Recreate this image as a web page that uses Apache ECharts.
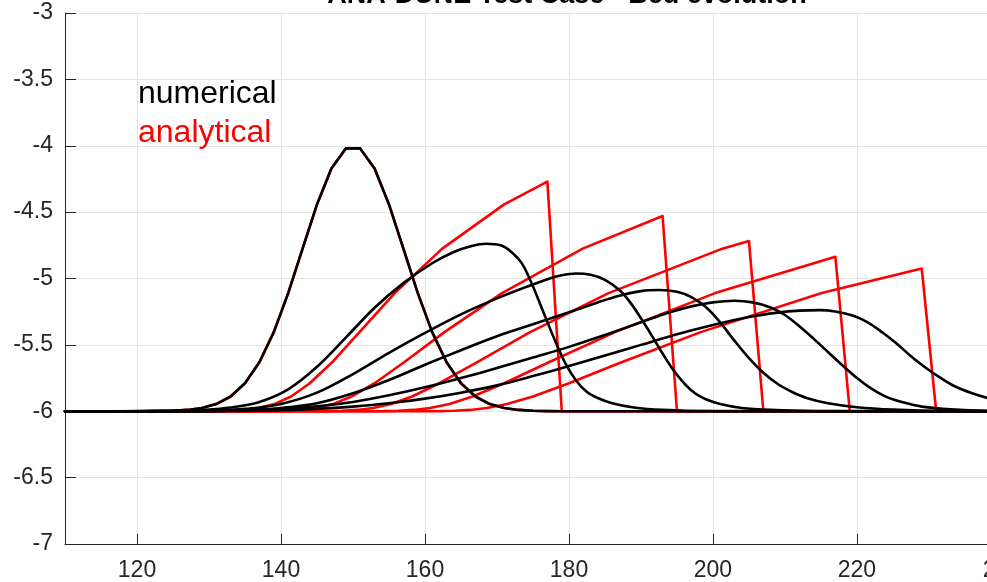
<!DOCTYPE html>
<html>
<head>
<meta charset="utf-8">
<script src="https://cdn.jsdelivr.net/npm/echarts@6/dist/echarts.min.js"></script>
<style>
  html, body { margin: 0; padding: 0; background: #ffffff; }
  #chart { width: 987px; height: 582px; }
</style>
</head>
<body>
<div id="chart"></div>
<script>
// Bed elevation profiles [x, z] for the dune migration test case.
const titleText = 'ANA-DUNE Test Case - Bed evolution';
const legendLabels = ['numerical', 'analytical'];
const edgeTickLabel = '240';

// t = 0 : initial Gaussian dune (shared by both solutions)
const bedInitial = [[110,-6],[121,-6],[123,-5.999],[125,-5.996],[127,-5.990],[129,-5.976],[131,-5.946],[133,-5.889],[135,-5.789],[137,-5.631],[139,-5.404],[141,-5.110],[143,-4.775],[145,-4.442],[147,-4.172],[149,-4.020],[151,-4.020],[153,-4.172],[155,-4.442],[157,-4.775],[159,-5.110],[161,-5.404],[163,-5.631],[165,-5.789],[167,-5.889],[169,-5.946],[171,-5.976],[173,-5.990],[175,-5.996],[177,-5.999],[179,-6],[250,-6]];

// numerical solution, later output times
const numT1 = [[110,-6],[121,-5.999],[125,-5.998],[129,-5.99],[133,-5.972],[137,-5.93],[141,-5.835],[145,-5.665],[149,-5.445],[153,-5.22],[157,-5.035],[161,-4.885],[164,-4.8],[166.5,-4.755],[168.5,-4.738],[170.5,-4.75],[172,-4.8],[173.5,-4.89],[175,-5.06],[176.5,-5.26],[178,-5.46],[179.5,-5.64],[181,-5.77],[182.5,-5.855],[184,-5.9],[186,-5.94],[189,-5.972],[193,-5.99],[200,-5.999],[250,-6]];
const numT2 = [[110,-6],[125,-5.999],[130,-5.996],[135,-5.982],[140,-5.945],[145,-5.86],[150,-5.72],[155,-5.56],[160,-5.41],[165,-5.27],[170,-5.15],[174,-5.065],[177,-5.005],[179,-4.975],[181,-4.962],[183,-4.972],[185,-5.01],[187,-5.087],[188.5,-5.18],[190,-5.3],[191.5,-5.43],[193,-5.565],[194.5,-5.69],[196,-5.79],[197.5,-5.865],[199,-5.91],[201,-5.945],[204,-5.975],[208,-5.99],[214,-5.998],[250,-6]];
const numT3 = [[110,-6],[125,-5.999],[130,-5.998],[135,-5.99],[140,-5.975],[145,-5.94],[150,-5.865],[155,-5.765],[160,-5.65],[165,-5.54],[170,-5.435],[175,-5.345],[180,-5.255],[184,-5.18],[187,-5.13],[190,-5.095],[192.5,-5.087],[195,-5.1],[197,-5.14],[199,-5.215],[201,-5.33],[203,-5.47],[205,-5.6],[207,-5.71],[209,-5.795],[211,-5.855],[213,-5.9],[216,-5.94],[220,-5.97],[225,-5.988],[232,-5.998],[250,-6]];
const numT4 = [[110,-6],[125,-5.999],[130,-5.998],[135,-5.993],[140,-5.982],[145,-5.962],[150,-5.93],[155,-5.88],[160,-5.82],[165,-5.75],[170,-5.675],[175,-5.595],[180,-5.515],[185,-5.425],[190,-5.33],[194,-5.255],[197,-5.21],[200,-5.18],[203,-5.168],[205.5,-5.18],[208,-5.218],[210,-5.275],[212,-5.36],[214,-5.455],[216,-5.555],[218,-5.655],[220,-5.75],[222,-5.83],[224,-5.89],[226.5,-5.935],[229,-5.965],[233,-5.985],[240,-5.998],[250,-6]];
const numT5 = [[110,-6],[130,-5.999],[135,-5.997],[140,-5.992],[145,-5.982],[150,-5.965],[155,-5.94],[160,-5.905],[165,-5.86],[170,-5.805],[175,-5.735],[180,-5.66],[185,-5.58],[190,-5.5],[195,-5.42],[200,-5.35],[205,-5.29],[209,-5.257],[212,-5.242],[214.8,-5.238],[217,-5.248],[219.5,-5.28],[221.5,-5.33],[223.5,-5.405],[225.5,-5.49],[227.5,-5.585],[229.5,-5.67],[231.5,-5.745],[233.5,-5.81],[236,-5.865],[238.5,-5.905],[242,-5.945],[246,-5.97],[250,-5.985]];

// analytical solution (characteristics with shock), same output times
const anaT1 = [[110,-6],[130.8,-5.999],[132.8,-5.996],[134.9,-5.990],[136.9,-5.976],[139.1,-5.946],[141.4,-5.889],[144.0,-5.789],[147.1,-5.631],[150.9,-5.404],[155.8,-5.110],[162.4,-4.775],[171.0,-4.442],[177,-4.27],[179,-6],[250,-6]];
const anaT2 = [[110,-6],[138.6,-5.999],[140.6,-5.996],[142.7,-5.990],[144.9,-5.976],[147.2,-5.946],[149.8,-5.889],[153.0,-5.789],[157.1,-5.631],[162.7,-5.404],[170.7,-5.110],[181.9,-4.775],[193,-4.529],[195,-6],[250,-6]];
const anaT3 = [[110,-6],[146.4,-5.999],[148.5,-5.996],[150.6,-5.990],[152.8,-5.976],[155.3,-5.946],[158.2,-5.889],[162.0,-5.789],[167.2,-5.631],[174.6,-5.404],[185.5,-5.110],[201.3,-4.775],[205,-4.718],[207,-6],[250,-6]];
const anaT4 = [[110,-6],[154.2,-5.999],[156.3,-5.996],[158.4,-5.990],[160.7,-5.976],[163.4,-5.946],[166.6,-5.889],[171.0,-5.789],[177.2,-5.631],[186.4,-5.404],[200.3,-5.110],[217,-4.837],[219,-6],[250,-6]];
const anaT5 = [[110,-6],[162.0,-5.999],[164.1,-5.996],[166.3,-5.990],[168.6,-5.976],[171.4,-5.946],[175.0,-5.889],[180.0,-5.789],[187.3,-5.631],[198.3,-5.404],[215.1,-5.110],[229,-4.925],[231,-6],[250,-6]];

const numericalProfiles = [bedInitial, numT1, numT2, numT3, numT4, numT5];
const analyticalProfiles = [bedInitial, anaT1, anaT2, anaT3, anaT4, anaT5];

const FONT = '"Liberation Sans", Arial, Helvetica, sans-serif';
const AXIS_COLOR = '#262626';
const GRID_COLOR = '#e4e4e4';

// The axes box runs past the right edge of the canvas; the visible part ends here.
const X_MIN = 110;
const X_VISIBLE_MAX = 238.06;

const chart = echarts.init(document.getElementById('chart'), null, { renderer: 'canvas' });

function lineSeries(data, color, z, smooth) {
  return {
    type: 'line',
    data: data,
    showSymbol: false,
    symbol: 'none',
    smooth: smooth,
    z: z,
    lineStyle: { color: color, width: 2.6, join: 'round', cap: 'round' },
    emphasis: { disabled: true }
  };
}

const series = [];
analyticalProfiles.forEach(function (d) { series.push(lineSeries(d, '#ff0000', 2, false)); });
numericalProfiles.forEach(function (d, i) { series.push(lineSeries(d, '#000000', 3, i === 0 ? false : 0.35)); });

chart.setOption({
  animation: false,
  backgroundColor: '#ffffff',
  grid: { left: 65, top: 13, right: 0, height: 531, containLabel: false },
  xAxis: {
    type: 'value',
    min: X_MIN,
    max: X_VISIBLE_MAX,
    splitNumber: 6,
    minInterval: 20,
    maxInterval: 20,
    axisLine: { show: true, onZero: false, lineStyle: { color: AXIS_COLOR, width: 1 } },
    axisTick: { show: true, inside: true, length: 10, lineStyle: { color: AXIS_COLOR, width: 1 } },
    axisLabel: { show: true, showMinLabel: false, showMaxLabel: false, margin: 15, color: AXIS_COLOR, fontSize: 23, fontFamily: FONT },
    splitLine: { show: true, lineStyle: { color: GRID_COLOR, width: 1 } }
  },
  yAxis: {
    type: 'value',
    min: -7,
    max: -3,
    interval: 0.5,
    axisLine: { show: true, onZero: false, lineStyle: { color: AXIS_COLOR, width: 1 } },
    axisTick: { show: true, inside: true, length: 11, lineStyle: { color: AXIS_COLOR, width: 1 } },
    axisLabel: { show: true, margin: 12, color: AXIS_COLOR, fontSize: 23, fontFamily: FONT },
    splitLine: { show: true, lineStyle: { color: GRID_COLOR, width: 1 } }
  },
  graphic: [
    {
      type: 'text', x: 567, y: 9, z: 10,
      style: { text: titleText, fill: '#000000', font: 'bold 27px ' + FONT, textAlign: 'center', textVerticalAlign: 'bottom' }
    },
    {
      type: 'text', x: 138, y: 110, z: 10,
      style: { text: legendLabels[0], fill: '#000000', font: '32px ' + FONT, textAlign: 'left', textVerticalAlign: 'bottom' }
    },
    {
      type: 'text', x: 138, y: 149, z: 10,
      style: { text: legendLabels[1], fill: '#ff0000', font: '32px ' + FONT, textAlign: 'left', textVerticalAlign: 'bottom' }
    },
    {
      type: 'text', x: 1002, y: 559, z: 10,
      style: { text: edgeTickLabel, fill: AXIS_COLOR, font: '23px ' + FONT, textAlign: 'center', textVerticalAlign: 'top' }
    }
  ],
  series: series
});
</script>
</body>
</html>
